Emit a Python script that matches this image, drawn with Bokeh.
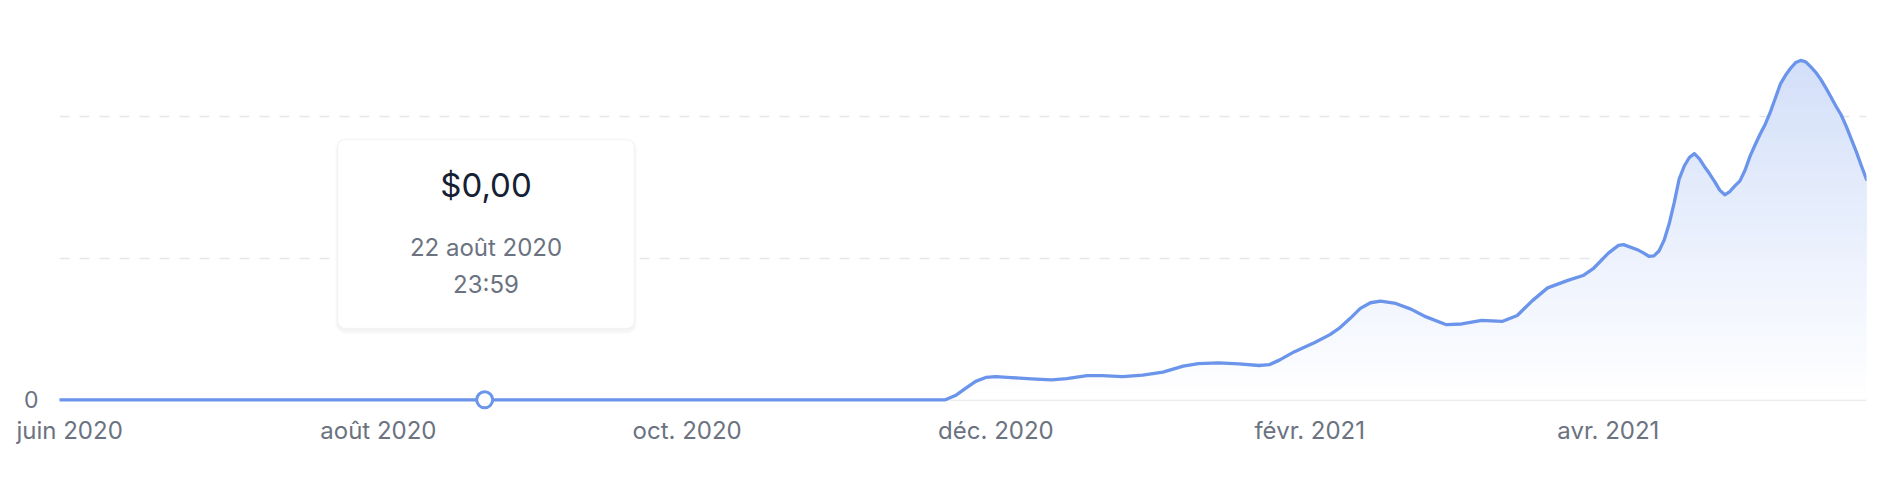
import numpy as np
import pandas as pd
from bokeh.plotting import figure
from bokeh.models import FixedTicker, Span, BoxAnnotation, Label, Range1d
from bokeh.embed import file_html
from bokeh.resources import INLINE

# ---------------- data ----------------
dates = [
    "2020-05-30", "2020-08-22", "2020-11-21", "2020-11-23", "2020-11-25", "2020-11-27",
    "2020-11-29", "2020-12-01", "2020-12-04", "2020-12-08", "2020-12-12", "2020-12-15",
    "2020-12-19", "2020-12-22", "2020-12-26", "2020-12-30", "2021-01-03", "2021-01-07",
    "2021-01-10", "2021-01-14", "2021-01-18", "2021-01-22", "2021-01-24", "2021-01-26",
    "2021-01-29", "2021-02-02", "2021-02-05", "2021-02-07", "2021-02-09", "2021-02-11",
    "2021-02-13", "2021-02-15", "2021-02-18", "2021-02-21", "2021-02-24", "2021-02-28",
    "2021-03-03", "2021-03-07", "2021-03-11", "2021-03-14", "2021-03-17", "2021-03-20",
    "2021-03-24", "2021-03-27", "2021-03-29", "2021-04-01", "2021-04-03", "2021-04-04",
    "2021-04-07", "2021-04-08", "2021-04-09", "2021-04-10", "2021-04-11", "2021-04-12",
    "2021-04-13", "2021-04-14", "2021-04-15", "2021-04-16", "2021-04-17", "2021-04-18",
    "2021-04-19", "2021-04-20", "2021-04-21", "2021-04-22", "2021-04-23", "2021-04-24",
    "2021-04-25", "2021-04-26", "2021-04-27", "2021-04-28", "2021-04-29", "2021-04-30",
    "2021-05-01", "2021-05-02", "2021-05-03", "2021-05-04", "2021-05-05", "2021-05-06",
    "2021-05-07", "2021-05-08", "2021-05-09", "2021-05-10", "2021-05-11", "2021-05-12",
    "2021-05-13", "2021-05-14", "2021-05-15", "2021-05-16", "2021-05-17", "2021-05-18",
    "2021-05-19", "2021-05-20", "2021-05-21", "2021-05-22",
]
values = [
    0.0, 0.0, 0.0, 0.03, 0.08, 0.13,
    0.158, 0.163, 0.157, 0.148, 0.141, 0.149,
    0.170, 0.171, 0.164, 0.174, 0.195, 0.238,
    0.256, 0.261, 0.254, 0.242, 0.248, 0.28,
    0.34, 0.405, 0.46, 0.51, 0.575, 0.645,
    0.685, 0.696, 0.68, 0.64, 0.585, 0.53,
    0.535, 0.56, 0.553, 0.595, 0.70, 0.79,
    0.843, 0.877, 0.925, 1.035, 1.09, 1.095,
    1.055, 1.035, 1.013, 1.016, 1.05, 1.125,
    1.24, 1.39, 1.56, 1.65, 1.71, 1.737,
    1.70, 1.645, 1.595, 1.54, 1.48, 1.447,
    1.47, 1.51, 1.545, 1.62, 1.72, 1.80,
    1.876, 1.945, 2.03, 2.13, 2.23, 2.29,
    2.34, 2.38, 2.395, 2.385, 2.35, 2.31,
    2.26, 2.20, 2.135, 2.07, 2.01, 1.93,
    1.84, 1.75, 1.65, 1.555,
]
tick_dates = ["2020-06-01", "2020-08-01", "2020-10-01", "2020-12-01", "2021-02-01", "2021-04-01"]
tick_labels = ["juin 2020", "août 2020", "oct. 2020", "déc. 2020", "févr. 2021", "avr. 2021"]
grid_values = [1, 2]
hover_date = "2020-08-22"
hover_value = 0.0
tooltip_amount = "$0,00"
tooltip_day = "22 août 2020"
tooltip_time = "23:59"

# ---------------- styles ----------------
BLUE = "#6b94eb"
BLUE_RGB = (107, 148, 235)
GRAY_TXT = "#6b7280"
GRID = "#e5e7eb"
FONT = "Inter"


def to_ms(seq):
    return ((pd.to_datetime(seq) - pd.Timestamp("1970-01-01")) // pd.Timedelta("1ms")).astype("int64")


def tint(a):
    r, g, b = (round(255 * (1 - a) + c * a) for c in BLUE_RGB)
    return "#%02x%02x%02x" % (r, g, b)


x = np.asarray(to_ms(dates), dtype=float)
y = np.asarray(values, dtype=float)
tick_ms = [int(v) for v in to_ms(tick_dates)]
hover_ms = float(to_ms([hover_date])[0])

p = figure(
    width=1892, height=476,
    x_range=Range1d(x[0], x[-1]),
    y_range=Range1d(-0.0755, 2.677),
    min_border_left=59, min_border_right=26, min_border_top=20, min_border_bottom=66,
    toolbar_location=None, output_backend="svg",
)
p.outline_line_color = None
p.background_fill_color = "white"
p.border_fill_color = "white"

# vertical gradient under the curve: opaque bands, darker with height
levels = np.linspace(0.0, 2.45, 50)
for lv in levels:
    a = min(0.125 * (lv + 0.025), 0.31)
    p.varea(x=x, y1=np.minimum(y, lv), y2=y, fill_color=tint(a), fill_alpha=1.0)

# baseline
p.add_layout(Span(location=0, dimension="width", line_color=GRID, line_width=2, level="underlay"))

p.line(x, y, line_color=BLUE, line_width=3.3, line_join="round", line_cap="round")
p.scatter([hover_ms], [hover_value], size=16, fill_color="white", line_color=BLUE, line_width=3)

# axes
xa = p.xaxis[0]
xa.ticker = FixedTicker(ticks=tick_ms)
xa.major_label_overrides = {t: l for t, l in zip(tick_ms, tick_labels)}
xa.axis_line_color = None
xa.major_tick_line_color = None
xa.minor_tick_line_color = None
xa.major_tick_out = 0
xa.major_label_text_font = FONT
xa.major_label_text_font_size = "24px"
xa.major_label_text_color = GRAY_TXT
xa.major_label_standoff = 5

ya = p.yaxis[0]
ya.ticker = FixedTicker(ticks=[0])
ya.axis_line_color = None
ya.major_tick_line_color = None
ya.minor_tick_line_color = None
ya.major_tick_out = 0
ya.major_label_text_font = FONT
ya.major_label_text_font_size = "23px"
ya.major_label_text_color = GRAY_TXT
ya.major_label_standoff = 21

p.xgrid.grid_line_color = None
p.ygrid.ticker = FixedTicker(ticks=grid_values)
p.ygrid.grid_line_color = GRID
p.ygrid.grid_line_width = 1.5
p.ygrid.grid_line_dash = "10 10"

# tooltip (canvas units)
L, R, T, B = 337, 634, 139, 328
for i, a in enumerate([0.018, 0.012, 0.008]):
    d = i + 1
    p.add_layout(BoxAnnotation(left=L - d, right=R + d, top=T - d + 2, bottom=B + d + 3,
                               left_units="canvas", right_units="canvas",
                               top_units="canvas", bottom_units="canvas",
                               fill_color="black", fill_alpha=a, line_color=None,
                               border_radius=8 + d, level="overlay"))
p.add_layout(BoxAnnotation(left=L, right=R, top=T, bottom=B,
                           left_units="canvas", right_units="canvas",
                           top_units="canvas", bottom_units="canvas",
                           fill_color="white", fill_alpha=1.0, line_color="#e3e5e8", line_width=1.5,
                           border_radius=8, level="overlay"))
cx = (L + R) / 2
p.add_layout(Label(x=cx, y=184, x_units="canvas", y_units="canvas", text=tooltip_amount,
                   text_font=FONT, text_font_size="33px", text_color="#152033",
                   text_align="center", text_baseline="middle", level="overlay"))
p.add_layout(Label(x=cx, y=247, x_units="canvas", y_units="canvas", text=tooltip_day,
                   text_font=FONT, text_font_size="24px", text_color=GRAY_TXT,
                   text_align="center", text_baseline="middle", level="overlay"))
p.add_layout(Label(x=cx, y=284, x_units="canvas", y_units="canvas", text=tooltip_time,
                   text_font=FONT, text_font_size="24px", text_color=GRAY_TXT,
                   text_align="center", text_baseline="middle", level="overlay"))

open("out.html", "w").write(file_html(p, INLINE))
